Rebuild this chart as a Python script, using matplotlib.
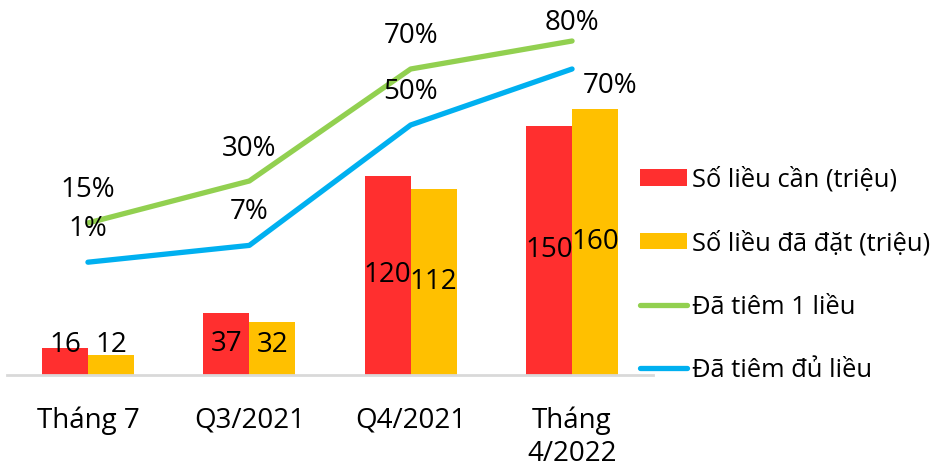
import matplotlib
matplotlib.use("Agg")
import matplotlib.pyplot as plt
import numpy as np

plt.rcParams['font.family'] = ['Open Sans', 'DejaVu Sans']

categories = ["Tháng 7", "Q3/2021", "Q4/2021", "Tháng\n4/2022"]
doses_needed = [16, 37, 120, 150]
doses_ordered = [12, 32, 112, 160]
one_dose = [15, 30, 70, 80]
full_dose = [1, 7, 50, 70]

series_names = ["Số liều cần (triệu)", "Số liều đã đặt (triệu)",
                "Đã tiêm 1 liều", "Đã tiêm đủ liều"]

red = "#FF2F2F"
yellow = "#FFC000"
green = "#92D050"
blue = "#00B0F0"

W, H = 945, 467
fig = plt.figure(figsize=(W / 100, H / 100), dpi=100)

# axes placed in pixel terms: axis line at y=375, categories 161.5 px apart
ax = fig.add_axes([7.25 / W, (H - 375) / H, 645.5 / W, 355 / H])
ax2 = ax.twinx()

x = np.arange(len(categories))
bw = 0.285
b1 = ax.bar(x - bw / 2, doses_needed, bw, color=red, label=series_names[0])
b2 = ax.bar(x + bw / 2, doses_ordered, bw, color=yellow, label=series_names[1])
ax.set_xlim(-0.5, len(categories) - 0.5)
ax.set_ylim(0, 355 / 1.6625)

fs = 20
for bars, vals in ((b1, doses_needed), (b2, doses_ordered)):
    for rect, v in zip(bars, vals):
        ax.text(rect.get_x() + rect.get_width() / 2, max(v / 2, 18), str(v),
                ha="center", va="center", fontsize=fs, color="black")

l1, = ax2.plot(x, one_dose, color=green, lw=3.8, solid_capstyle="round",
               label=series_names[2])
l2, = ax2.plot(x, full_dose, color=blue, lw=3.8, solid_capstyle="round",
               label=series_names[3])
ax2.set_ylim(-110 / 2.8, 245 / 2.8)

green_offsets = [(0, 24), (0, 23), (0, 24), (0, 13)]
blue_offsets = [(0, 24), (0, 24), (0, 24), (27, -12)]
for xi, v, off in zip(x, one_dose, green_offsets):
    ax2.annotate(f"{v}%", (xi, v), xytext=off, textcoords="offset points",
                 ha="center", va="center", fontsize=fs, annotation_clip=False)
for xi, v, off in zip(x, full_dose, blue_offsets):
    ax2.annotate(f"{v}%", (xi, v), xytext=off, textcoords="offset points",
                 ha="center", va="center", fontsize=fs, annotation_clip=False)

for a in (ax, ax2):
    for s in ("top", "left", "right"):
        a.spines[s].set_visible(False)
    a.set_yticks([])
ax2.spines["bottom"].set_visible(False)
ax.spines["bottom"].set_color("#D9D9D9")
ax.spines["bottom"].set_linewidth(2)
ax.set_xticks(x)
ax.set_xticklabels(categories, fontsize=fs, linespacing=1.2)
ax.tick_params(axis="x", length=0, pad=23)

fig.legend(handles=[b1, b2, l1, l2], loc="upper left",
           bbox_to_anchor=(640 / W, (H - 167) / H), frameon=False,
           fontsize=fs * 0.92, handlelength=1.85, handleheight=0.6,
           handletextpad=0.2, labelspacing=1.5, borderpad=0, borderaxespad=0)

fig.savefig("out.png", dpi=100)
